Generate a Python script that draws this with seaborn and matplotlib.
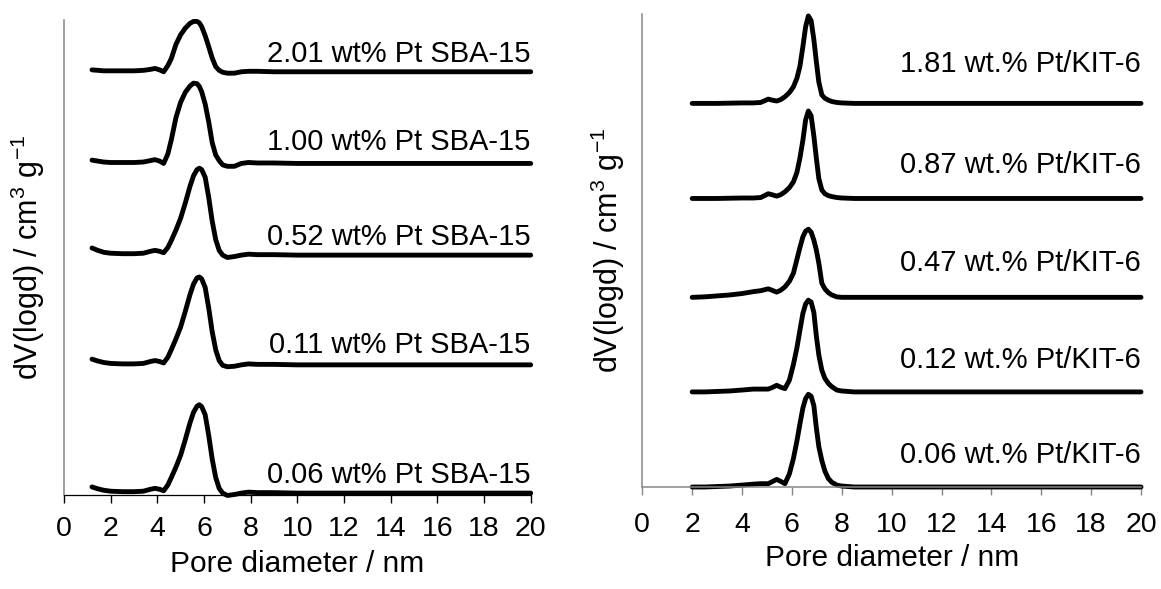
import numpy as np
import pandas as pd
import matplotlib
matplotlib.use("Agg")
import matplotlib.pyplot as plt
import seaborn as sns

# ---------------- data ----------------
# Left panel: Pt/SBA-15 pore size distributions (curve above its own baseline)
x_sba = [1.2, 1.45, 1.7, 2.0, 2.5, 3.0, 3.4, 3.7, 3.9, 4.1, 4.27, 4.45, 4.6, 4.8,
         5.0, 5.2, 5.4, 5.55, 5.7, 5.8, 5.9, 6.05, 6.2, 6.35, 6.5, 6.65, 6.8,
         7.0, 7.3, 7.6, 7.9, 8.3, 9.0, 10.0, 12.0, 14.0, 16.0, 18.0, 20.0]
sba_006 = [0.13, 0.09, 0.06, 0.04, 0.03, 0.03, 0.04, 0.08, 0.10, 0.08, 0.05, 0.17, 0.33, 0.55,
           0.80, 1.13, 1.48, 1.70, 1.83, 1.86, 1.82, 1.65, 1.22, 0.72, 0.33, 0.10, 0.00,
           -0.05, -0.03, 0.00, 0.02, 0.01, 0.01, 0.0, 0.0, 0.0, 0.0, 0.0, 0.0]
sba_011 = [0.12, 0.08, 0.05, 0.03, 0.02, 0.02, 0.03, 0.07, 0.09, 0.07, 0.04, 0.16, 0.32, 0.55,
           0.80, 1.13, 1.48, 1.70, 1.83, 1.85, 1.81, 1.63, 1.20, 0.70, 0.32, 0.09, -0.01,
           -0.04, -0.03, 0.00, 0.02, 0.01, 0.01, 0.0, 0.0, 0.0, 0.0, 0.0, 0.0]
sba_052 = [0.15, 0.10, 0.06, 0.04, 0.03, 0.03, 0.04, 0.08, 0.10, 0.08, 0.05, 0.16, 0.31, 0.53,
           0.78, 1.10, 1.45, 1.67, 1.80, 1.83, 1.80, 1.64, 1.22, 0.72, 0.33, 0.10, 0.00,
           -0.05, -0.03, 0.00, 0.02, 0.01, 0.01, 0.0, 0.0, 0.0, 0.0, 0.0, 0.0]
sba_100 = [0.07, 0.05, 0.03, 0.02, 0.02, 0.02, 0.03, 0.06, 0.08, 0.05, 0.00, 0.20, 0.50, 0.97,
           1.29, 1.50, 1.63, 1.69, 1.68, 1.62, 1.51, 1.25, 0.88, 0.44, 0.18, 0.06, -0.03,
           -0.06, -0.06, 0.00, 0.02, 0.01, 0.01, 0.0, 0.0, 0.0, 0.0, 0.0, 0.0]
sba_201 = [0.04, 0.03, 0.02, 0.02, 0.02, 0.02, 0.03, 0.05, 0.07, 0.04, 0.00, 0.13, 0.28, 0.58,
           0.78, 0.92, 1.02, 1.06, 1.06, 1.03, 0.95, 0.76, 0.53, 0.29, 0.11, 0.03, -0.01,
           -0.03, -0.03, 0.00, 0.01, 0.01, 0.0, 0.0, 0.0, 0.0, 0.0, 0.0, 0.0]
sba_names = ["0.06 wt% Pt SBA-15", "0.11 wt% Pt SBA-15", "0.52 wt% Pt SBA-15",
             "1.00 wt% Pt SBA-15", "2.01 wt% Pt SBA-15"]
sba_offsets = [0.04, 2.74, 5.05, 6.98, 8.91]
sba_label_y = [0.25, 2.98, 5.26, 7.26, 9.12]

# Right panel: Pt/KIT-6 pore size distributions
x_kit = [2.0, 2.5, 3.0, 3.5, 4.0, 4.45, 4.75, 5.05, 5.2, 5.39, 5.55, 5.72, 5.9, 6.06,
         6.2, 6.32, 6.44, 6.55, 6.66, 6.77, 6.88, 6.98, 7.08, 7.2, 7.32, 7.46, 7.6,
         7.8, 8.0, 8.5, 9.0, 10.0, 12.0, 14.0, 16.0, 18.0, 20.0]
kit_006 = [0.0, 0.0, 0.01, 0.02, 0.04, 0.06, 0.07, 0.07, 0.11, 0.16, 0.12, 0.07, 0.28, 0.60,
           0.97, 1.33, 1.67, 1.87, 1.96, 1.92, 1.72, 1.25, 0.85, 0.56, 0.34, 0.18, 0.10,
           0.04, 0.02, 0.0, 0.0, 0.0, 0.0, 0.0, 0.0, 0.0, 0.0]
kit_012 = [0.0, 0.0, 0.01, 0.02, 0.04, 0.06, 0.06, 0.06, 0.09, 0.14, 0.10, 0.07, 0.25, 0.58,
           0.93, 1.30, 1.66, 1.86, 1.94, 1.90, 1.68, 1.18, 0.78, 0.46, 0.29, 0.18, 0.11,
           0.04, 0.02, 0.0, 0.0, 0.0, 0.0, 0.0, 0.0, 0.0, 0.0]
kit_047 = [0.0, 0.01, 0.03, 0.05, 0.08, 0.12, 0.14, 0.18, 0.15, 0.11, 0.15, 0.22, 0.34, 0.51,
           0.80, 1.05, 1.28, 1.40, 1.44, 1.38, 1.21, 1.00, 0.72, 0.30, 0.18, 0.10, 0.05,
           0.01, 0.0, 0.0, 0.0, 0.0, 0.0, 0.0, 0.0, 0.0, 0.0]
kit_087 = [0.0, 0.0, 0.0, 0.005, 0.01, 0.01, 0.02, 0.10, 0.08, 0.05, 0.08, 0.14, 0.23, 0.35,
           0.55, 0.85, 1.23, 1.66, 1.85, 1.75, 1.32, 0.85, 0.42, 0.18, 0.10, 0.06, 0.04,
           0.02, 0.01, 0.0, 0.0, 0.0, 0.0, 0.0, 0.0, 0.0, 0.0]
kit_181 = [0.0, 0.0, 0.0, 0.005, 0.01, 0.01, 0.02, 0.09, 0.07, 0.05, 0.08, 0.14, 0.23, 0.35,
           0.53, 0.78, 1.20, 1.62, 1.85, 1.75, 1.35, 0.88, 0.45, 0.18, 0.11, 0.07, 0.04,
           0.02, 0.01, 0.0, 0.0, 0.0, 0.0, 0.0, 0.0, 0.0, 0.0]
kit_names = ["0.06 wt.% Pt/KIT-6", "0.12 wt.% Pt/KIT-6", "0.47 wt.% Pt/KIT-6",
             "0.87 wt.% Pt/KIT-6", "1.81 wt.% Pt/KIT-6"]
kit_offsets = [0.0, 2.01, 4.01, 6.10, 8.11]
kit_label_y = [0.51, 2.52, 4.57, 6.64, 8.78]

x_ticks = list(range(0, 21, 2))
x_label = "Pore diameter / nm"
y_label = r"dV(logd) / cm$^{3}$ g$^{-1}$"

# ---------------- style ----------------
sns.set_theme(style="white")
plt.rcParams["font.family"] = ["Liberation Sans", "DejaVu Sans"]
plt.rcParams["mathtext.fontset"] = "custom"
plt.rcParams["mathtext.rm"] = "Liberation Sans"
plt.rcParams["mathtext.it"] = "Liberation Sans:italic"
plt.rcParams["mathtext.bf"] = "Liberation Sans:bold"
plt.rcParams["text.color"] = "black"
plt.rcParams["axes.labelcolor"] = "black"
plt.rcParams["xtick.labelcolor"] = "black"

FS_LBL = 21
FS_TICK = 20.5
FS_AX = 21.5
FS_Y = 22
GRAY = "#868686"


def long_frame(x, curves, names, offsets):
    frames = []
    for y, name, off in zip(curves, names, offsets):
        frames.append(pd.DataFrame({"x": x, "y": np.asarray(y) + off, "sample": name}))
    return pd.concat(frames, ignore_index=True)


df_sba = long_frame(x_sba, [sba_006, sba_011, sba_052, sba_100, sba_201], sba_names, sba_offsets)
df_kit = long_frame(x_kit, [kit_006, kit_012, kit_047, kit_087, kit_181], kit_names, kit_offsets)

fig = plt.figure(figsize=(11.61, 5.89), dpi=100)
ax1 = fig.add_axes([64 / 1161, 94 / 589, 466.7 / 1161, 475 / 589])
ax2 = fig.add_axes([642.3 / 1161, 102 / 589, 498.7 / 1161, 473 / 589])

for ax, df, names, ly in ((ax1, df_sba, sba_names, sba_label_y),
                          (ax2, df_kit, kit_names, kit_label_y)):
    sns.lineplot(data=df, x="x", y="y", units="sample", estimator=None, sort=False,
                 color="black", linewidth=3.5, ax=ax, legend=False)
    for ln in ax.lines:
        ln.set_clip_on(False)
        ln.set_solid_capstyle("round")
        ln.set_solid_joinstyle("round")
    for name, y in zip(names, ly):
        ax.text(20, y, name, ha="right", va="baseline", fontsize=FS_LBL, color="black")
    ax.set_xlim(0, 20)
    ax.set_ylim(0, 10)
    ax.set_xticks(x_ticks)
    ax.set_xticklabels([str(t) for t in x_ticks])
    ax.set_yticks([])
    for s in ("top", "right"):
        ax.spines[s].set_visible(False)
    ax.spines["left"].set_color(GRAY)
    ax.spines["left"].set_linewidth(1.1)

ax1.spines["bottom"].set_color("black")
ax1.spines["bottom"].set_linewidth(0.9)
ax1.tick_params(axis="x", direction="out", length=5.5, width=1.0, color="black",
                labelcolor="black", labelsize=FS_TICK, pad=9.4, bottom=True)
ax2.spines["bottom"].set_color(GRAY)
ax2.spines["bottom"].set_linewidth(1.1)
ax2.tick_params(axis="x", direction="out", length=5.5, width=1.0, color=GRAY,
                labelcolor="black", labelsize=FS_TICK, pad=12.2, bottom=True)

ax1.set_xlabel(x_label, fontsize=FS_AX, labelpad=6, color="black")
ax2.set_xlabel(x_label, fontsize=FS_AX, labelpad=4.5, color="black")
ax1.set_ylabel(y_label, fontsize=FS_Y, labelpad=12, color="black")
ax2.set_ylabel(y_label, fontsize=FS_Y, labelpad=11, color="black")

fig.savefig("out.png", dpi=100, facecolor="white")
